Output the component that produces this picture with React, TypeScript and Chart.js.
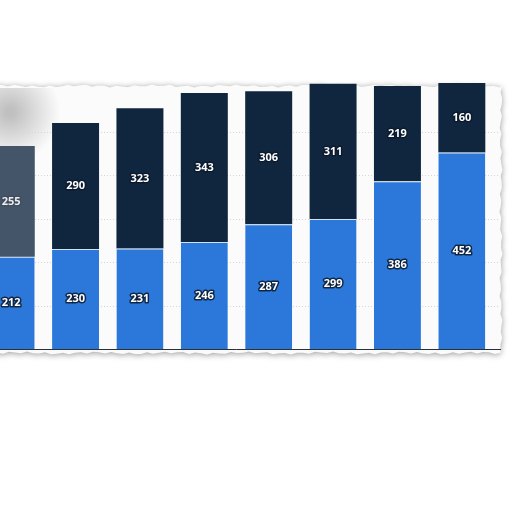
import React, { useEffect, useRef } from "react";
import { Chart, registerables } from "chart.js";

Chart.register(...registerables);

const categories = ["1", "2", "3", "4", "5", "6", "7", "8"];
const lowerValues = [212, 230, 231, 246, 287, 299, 386, 452];
const upperValues = [255, 290, 323, 343, 306, 311, 219, 160];
const gridValues = [100, 200, 300, 400, 500];

const OFFSET = 28; // canvas shifted left so the first bar is cut off
const W = 540;
const H = 512;

function jag(i: number, seed: number) {
  return Math.sin(i * 0.37 + seed) * 1.0 + Math.sin(i * 1.13 + seed * 2) * 0.6;
}

const paperPlugin = {
  id: "paper",
  beforeDraw(chart: any) {
    const ctx = chart.ctx as CanvasRenderingContext2D;
    const y = chart.scales.y;
    const base = y.getPixelForValue(0);
    ctx.save();
    ctx.fillStyle = "#ffffff";
    ctx.fillRect(0, 0, W, H);
    const top = 86;
    const bottom = base + 3;
    const right = OFFSET + 501;
    ctx.beginPath();
    ctx.moveTo(0, top);
    for (let x = 0; x <= right; x += 6) ctx.lineTo(x, top + jag(x, 1));
    for (let yy = top; yy <= bottom; yy += 6) ctx.lineTo(right + jag(yy, 2), yy);
    for (let x = right; x >= 0; x -= 6) ctx.lineTo(x, bottom + 1 + jag(x, 3));
    ctx.closePath();
    ctx.shadowColor = "rgba(0,0,0,0.4)";
    ctx.shadowBlur = 6;
    ctx.shadowOffsetY = 1;
    ctx.fillStyle = "#fbfbfb";
    ctx.fill();
    ctx.restore();

    // gray smudge inside the paper at top-left
    ctx.save();
    ctx.beginPath();
    ctx.rect(0, 88, OFFSET + 70, 70);
    ctx.clip();
    const g = ctx.createRadialGradient(OFFSET + 10, 112, 4, OFFSET + 10, 112, 50);
    g.addColorStop(0, "rgba(160,160,160,0.65)");
    g.addColorStop(1, "rgba(160,160,160,0)");
    ctx.fillStyle = g;
    ctx.fillRect(0, 88, OFFSET + 70, 70);
    ctx.restore();

    // dotted grid lines
    ctx.save();
    ctx.strokeStyle = "#d6d6d6";
    ctx.lineWidth = 1;
    ctx.setLineDash([1, 2]);
    gridValues.forEach((v) => {
      const py = Math.round(y.getPixelForValue(v)) + 0.5;
      ctx.beginPath();
      ctx.moveTo(0, py);
      ctx.lineTo(right - 2, py);
      ctx.stroke();
    });
    ctx.restore();
  },
  afterDatasetsDraw(chart: any) {
    const ctx = chart.ctx as CanvasRenderingContext2D;
    const y = chart.scales.y;
    const base = Math.round(y.getPixelForValue(0)) + 0.5;
    // axis line
    ctx.save();
    ctx.strokeStyle = "#2a2f38";
    ctx.lineWidth = 1;
    ctx.beginPath();
    ctx.moveTo(0, base);
    ctx.lineTo(OFFSET + 501, base);
    ctx.stroke();
    ctx.restore();

    // value labels
    ctx.save();
    ctx.font = "bold 11px 'Open Sans', 'DejaVu Sans', sans-serif";
    ctx.textAlign = "center";
    ctx.textBaseline = "middle";
    ctx.lineJoin = "round";
    chart.data.datasets.forEach((ds: any, di: number) => {
      const meta = chart.getDatasetMeta(di);
      meta.data.forEach((el: any, i: number) => {
        const cx = el.x;
        const cy = (el.y + el.base) / 2;
        const txt = String(ds.data[i]);
        ctx.lineWidth = 3;
        ctx.strokeStyle = "rgba(10,25,45,0.85)";
        ctx.strokeText(txt, cx, cy);
        ctx.fillStyle = "#ffffff";
        ctx.fillText(txt, cx, cy);
      });
    });
    ctx.restore();

    // haze over the first bar's top segment
    const el = chart.getDatasetMeta(1).data[0];
    if (el) {
      const half = el.width / 2;
      ctx.save();
      ctx.fillStyle = "rgba(190,196,202,0.3)";
      ctx.fillRect(el.x - half, el.y, half * 2, el.base - el.y);
      ctx.restore();
    }
  },
};

export default function App() {
  const ref = useRef<HTMLCanvasElement | null>(null);
  useEffect(() => {
    if (!ref.current) return;
    const chart = new Chart(ref.current, {
      type: "bar",
      data: {
        labels: categories,
        datasets: [
          {
            label: "lower",
            data: lowerValues,
            backgroundColor: "#2b77da",
            borderColor: "#cfe2f8",
            borderWidth: { top: 1, left: 0, right: 0, bottom: 0 },
            borderSkipped: false,
            categoryPercentage: 1,
            barPercentage: 0.73,
          },
          {
            label: "upper",
            data: upperValues,
            backgroundColor: "#10263f",
            borderWidth: 0,
            categoryPercentage: 1,
            barPercentage: 0.73,
          },
        ],
      },
      options: {
        responsive: false,
        animation: false,
        devicePixelRatio: 1,
        layout: { padding: { left: 7, right: 18, top: 79.5, bottom: 163 } },
        plugins: { legend: { display: false }, tooltip: { enabled: false } },
        scales: {
          x: { stacked: true, display: false },
          y: { stacked: true, display: false, min: 0, max: 620 },
        },
      },
      plugins: [paperPlugin],
    });
    return () => chart.destroy();
  }, []);
  return (
    <div
      style={{
        position: "fixed",
        left: 0,
        top: 0,
        width: 512,
        height: 512,
        overflow: "hidden",
        background: "#fff",
      }}
    >
      <canvas
        ref={ref}
        width={W}
        height={H}
        style={{ position: "absolute", left: -OFFSET, top: 0, width: W, height: H }}
      />
    </div>
  );
}
